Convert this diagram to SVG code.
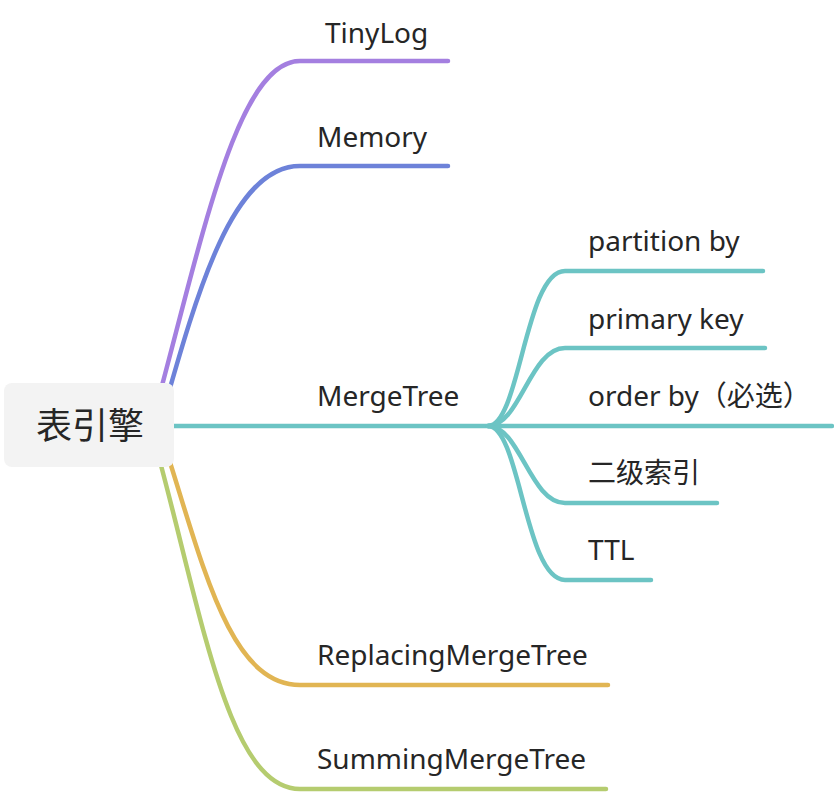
<svg xmlns="http://www.w3.org/2000/svg" width="834" height="794" viewBox="0 0 834 794">
<style>
.ln{fill:none;stroke-width:4.5;stroke-linecap:round}
.t{font-family:"Noto Sans","Open Sans","Noto Sans CJK SC",sans-serif;font-size:28px;fill:#262626}
.r{font-family:"Noto Sans CJK SC","Noto Sans",sans-serif;font-size:36px;fill:#262626}
</style>
<rect width="834" height="794" fill="#ffffff"/>
<g id="connectors">
<path class="ln" stroke="#a47fe0" d="M150 430 C200 250 235 61 300 61 L448 61"/>
<path class="ln" stroke="#6d82d9" d="M158 430 C195 300 230 166 300 166 L448 166"/>
<path class="ln" stroke="#6cc4c4" d="M170 426 L832 426"/>
<path class="ln" stroke="#e1b553" d="M158 425 C200 550 225 685 300 685 L608 685"/>
<path class="ln" stroke="#b5cc6f" d="M150 425 C200 600 225 789 300 789 L606 789"/>
<path class="ln" stroke="#6cc4c4" d="M488 426 C520 426 525 271 565 271 L763 271"/>
<path class="ln" stroke="#6cc4c4" d="M488 426 C520 426 530 348 565 348 L765 348"/>
<path class="ln" stroke="#6cc4c4" d="M488 426 C520 426 530 503 565 503 L717 503"/>
<path class="ln" stroke="#6cc4c4" d="M488 426 C520 426 525 580 565 580 L651 580"/>
</g>
<g id="root">
<rect x="4" y="383" width="170" height="84" rx="8" fill="#f3f3f3"/>
<text class="r" x="90" y="439" text-anchor="middle">表引擎</text>
</g>
<g id="tinylog"><text class="t" x="325" y="43">TinyLog</text></g>
<g id="memory"><text class="t" x="317" y="147">Memory</text></g>
<g id="mergetree"><text class="t" x="317" y="406">MergeTree</text></g>
<g id="partition"><text class="t" x="588" y="251">partition by</text></g>
<g id="primary"><text class="t" x="588" y="329">primary key</text></g>
<g id="orderby"><text class="t" x="588" y="406">order by（必选）</text></g>
<g id="index2"><text class="t" x="588" y="483">二级索引</text></g>
<g id="ttl"><text class="t" x="588" y="560">TTL</text></g>
<g id="replacing"><text class="t" x="317" y="665">ReplacingMergeTree</text></g>
<g id="summing"><text class="t" x="317" y="769">SummingMergeTree</text></g>
</svg>
